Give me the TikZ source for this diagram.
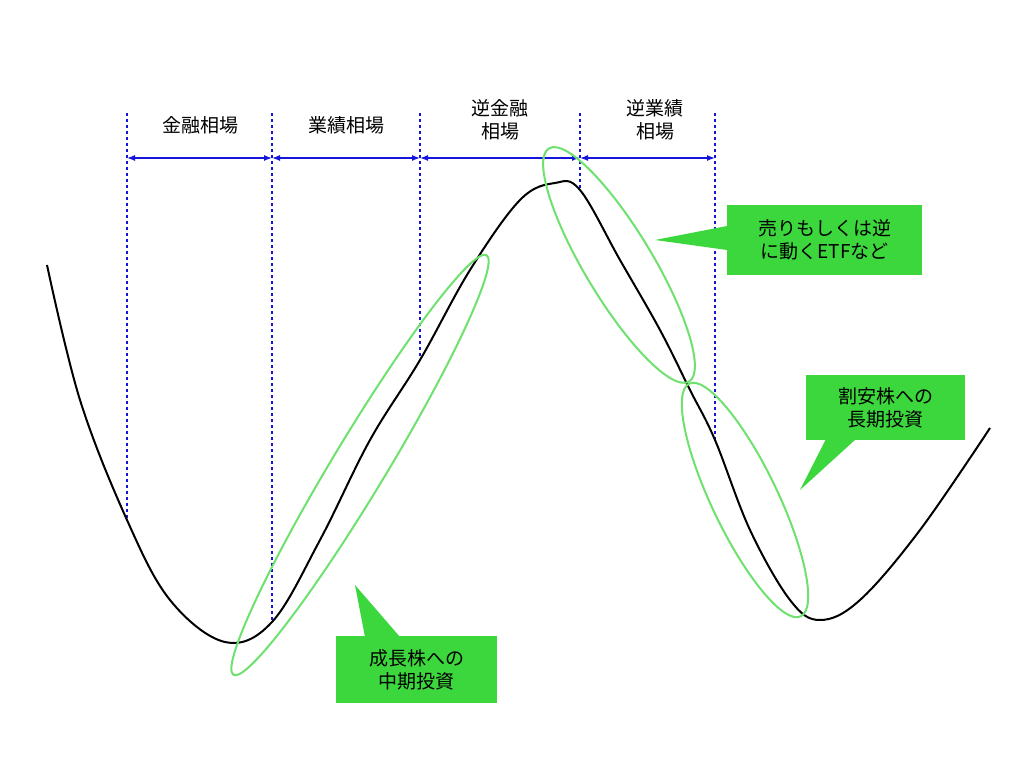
\documentclass[tikz,border=0pt]{standalone}
\usepackage{fontspec}
\setmainfont{Noto Sans CJK JP}
\usetikzlibrary{arrows.meta}
\definecolor{cgreen}{RGB}{60,215,60}
\definecolor{egreen}{RGB}{110,225,110}
\definecolor{cblue}{RGB}{20,20,220}
\tikzset{vline/.style={cblue,dashed,line width=1.3pt},
 span/.style={cblue,line width=1.3pt,{Latex[length=8pt]}-{Latex[length=8pt]}},
 lab/.style={font=\fontsize{19}{23}\selectfont,align=center},
 oval/.style={egreen,line width=2pt},
 callout/.style={fill=cgreen,font=\fontsize{19}{23}\selectfont,align=center,inner sep=0pt}}
\begin{document}
\begin{tikzpicture}[x=1pt,y=1pt]
\useasboundingbox[fill=white] (0,0) rectangle (1024,768);
\foreach \x/\b/\n in {127/248/a,272/146/b,420/408/c,580/578/d,715/328/e}{
  \coordinate (t\n) at (\x,655); \coordinate (b\n) at (\x,\b); \coordinate (m\n) at (\x,610);
  \draw[vline] (t\n) -- (b\n);}
\draw[span] (ma) -- (mb); \draw[span] (mb) -- (mc); \draw[span] (mc) -- (md); \draw[span] (md) -- (me);
\node[lab] (l1) at (200,643) {金融相場};
\node[lab] (l2) at (346,643) {業績相場};
\node[lab] (l3) at (500,648) {逆金融\\相場};
\node[lab] (l4) at (655,648) {逆業績\\相場};
\draw[black,line width=2pt] plot[smooth,tension=0.6] coordinates {(47,503) (80,368) (127,248) (170,168) (225,126) (272,146) (320,228) (370,328) (420,408) (470,498) (520,568) (555,585) (580,578) (620,508) (660,438) (690,378) (715,328) (750,238) (790,168) (820,148) (860,168) (920,238) (990,340)};
\draw[oval] (360,303) ellipse[x radius=245,y radius=27,rotate=58.9];
\draw[oval] (619,503) ellipse[x radius=136,y radius=34,rotate=-59];
\draw[oval] (745,268) ellipse[x radius=129,y radius=33,rotate=-64.4];
\node[callout,minimum width=195pt,minimum height=70pt] (c1) at (824.5,528) {売りもしくは逆\\に動くETFなど};
\coordinate (p1) at (655,528);
\fill[cgreen] (p1) -- (727,542) -- (727,518) -- cycle;
\node[callout,minimum width=159pt,minimum height=65pt] (c2) at (885.5,360.5) {割安株への\\長期投資};
\coordinate (p2) at (800,278);
\fill[cgreen] (p2) -- (826,329) -- (856,329) -- cycle;
\node[callout,minimum width=161pt,minimum height=67pt] (c3) at (416.5,98.5) {成長株への\\中期投資};
\coordinate (p3) at (355,183);
\fill[cgreen] (p3) -- (365,131) -- (400,131) -- cycle;
\end{tikzpicture}
\end{document}
